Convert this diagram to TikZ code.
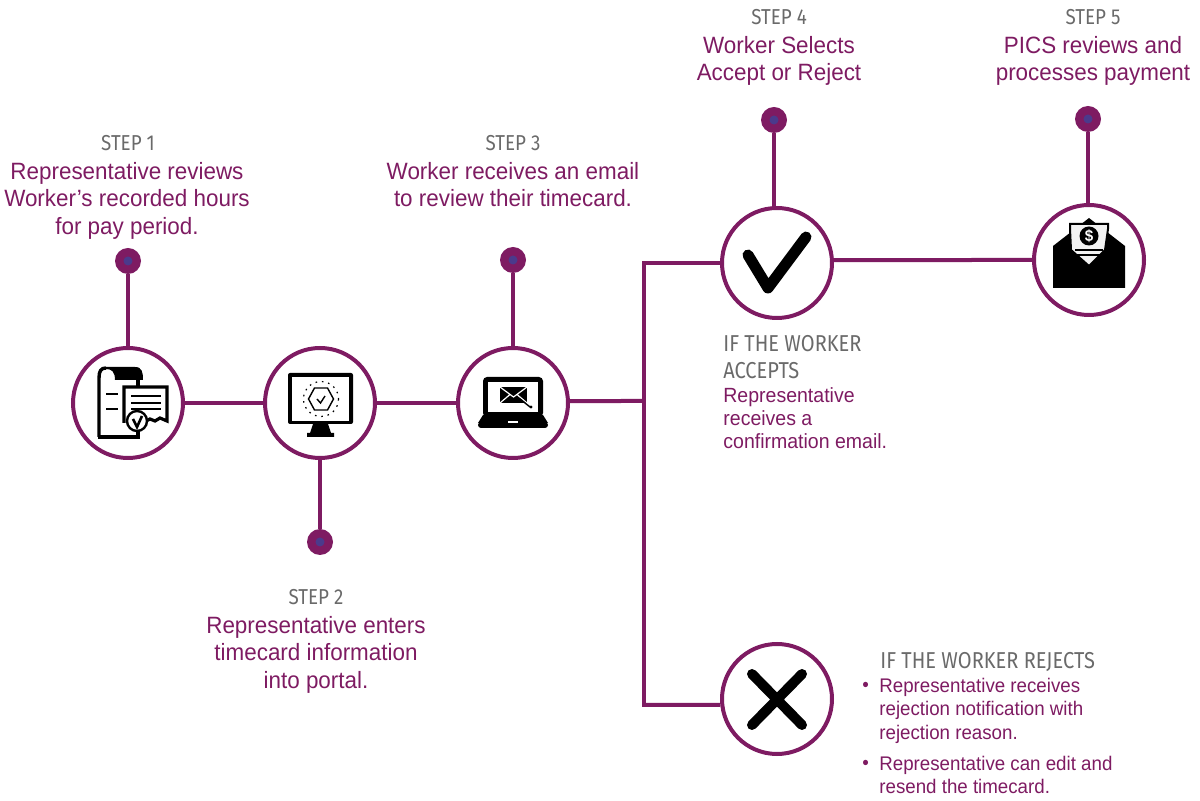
\documentclass[tikz,border=0pt]{standalone}
\usepackage{fontspec}
\setmainfont[FakeStretch=0.95]{Liberation Sans}
\newfontfamily\stepfont[FakeStretch=0.87]{Fira Sans}
\definecolor{plum}{HTML}{7E1B62}
\definecolor{dotblue}{HTML}{4B3A8C}
\definecolor{stepgray}{HTML}{6A6A6A}
\tikzset{
  stage/.style={circle, draw=plum, line width=2pt, fill=white, minimum size=55pt, inner sep=0pt},
  pin/.style={circle, fill=plum, minimum size=13pt, inner sep=0pt},
  wire/.style={draw=plum, line width=2pt},
  steplabel/.style={text=stepgray, font=\stepfont\fontsize{10.8}{13.5}\selectfont, align=center},
  bodylabel/.style={text=plum, font=\fontsize{11.8}{13.75}\selectfont, align=center},
  smalllabel/.style={text=plum, font=\fontsize{10.27}{11.6}\selectfont, align=left, anchor=north west, inner sep=0pt},
  rejectlabel/.style={smalllabel, font=\fontsize{9.85}{11.6}\selectfont},
  headlabel/.style={text=stepgray, font=\stepfont\fontsize{11.5}{13.6}\selectfont, align=left, anchor=north west, inner sep=0pt}
}
\begin{document}
\begin{tikzpicture}[x=0.5pt, y=-0.5pt]
    \useasboundingbox (0,0) rectangle (1200,801);

    % junction points
    \coordinate (bustop) at (644,263);
    \coordinate (busmid) at (644,401);
    \coordinate (busend) at (644,705);

    \node[stage](review) at (128,403){};
    \node[stage](enter) at (320,403){};
    \node[stage](mail) at (513,403){};
    \node[stage](accept) at (777,263){};
    \node[stage](pay) at (1089,260){};
    \node[stage](reject) at (777,699){};

    \node[pin](pinone) at (128,261){};
    \node[pin](pintwo) at (320,542){};
    \node[pin](pinthree) at (513,260){};
    \node[pin](pinfour) at (774,120){};
    \node[pin](pinfive) at (1088,119){};

    \draw[wire] (pinone) -- (review);
    \draw[wire] (pintwo) -- (enter);
    \draw[wire] (pinthree) -- (mail);
    \draw[wire] (pinfour) -- (pinfour |- accept.north);
    \draw[wire] (pinfive) -- (pinfive |- pay.north);
    \draw[wire] (review) -- (enter);
    \draw[wire] (enter) -- (mail);
    \draw[wire] (mail.2) -- (busmid);
    \draw[wire, line cap=rect] (bustop) -- (busend);
    \draw[wire] (bustop) -- (accept.west);
    \draw[wire] (accept.3) -- (pay.west);
    \draw[wire] (busend) -- (reject.186);

    % blue centres
    \foreach \p in {pinone,pintwo,pinthree,pinfour,pinfive}
      \fill[dotblue] (\p) circle (4.5);

    % document icon
    \fill (106,367) -- (135,367) .. controls (142,367) and (143,372) .. (143,380) -- (115,380) .. controls (115,372) and (112,369) .. (106,369) -- cycle;
    \draw[line width=1.7pt] (99,437) -- (99,378) .. controls (99,371) and (101,368) .. (106,368);
    \draw[line width=1.7pt] (138,379) -- (138,437) -- (98,437);
    \draw[line width=1.3pt] (106,394) -- (118,394) (106,409) -- (118,409);
    \draw[line width=1.6pt, fill=white] (124,423) -- (124,387) -- (167,387) -- (167,421) -- (160,418) -- (155,421) -- (150,419) -- (146,421) -- (138,420);
    \draw[line width=1.2pt] (131,396) -- (161,396) (131,403) -- (161,403) (131,409) -- (161,409);
    \draw[line width=1.2pt, fill=white] (137,421) circle (10);
    \draw[line width=1.3pt] (133,419) -- (137,427) -- (142,416);

    % monitor icon
    \fill[rounded corners=1pt] (288,373) rectangle (353,424);
    \fill[white] (292,377) rectangle (349,421);
    \fill (313,424) -- (328,424) -- (331,433) -- (334,433) -- (334,437) -- (307,437) -- (307,433) -- (310,433) -- cycle;
    \draw[line width=0.7pt] (308.5,399) -- (314.5,388) -- (327.5,388) -- (333.5,399) -- (327.5,410) -- (314.5,410) -- cycle;
    \draw[line width=0.7pt] (317,399) -- (320.5,403) -- (325,396);
    \draw[line width=0.6pt, dash pattern=on 0.8pt off 2.4pt] (321,399) circle (17.5);

    % laptop icon
    \fill[rounded corners=2pt] (483,377) rectangle (543,417);
    \fill[white] (488,382) rectangle (538,412);
    \fill (483,415) -- (543,415) -- (548,423) -- (478,423) -- cycle;
    \fill[rounded corners=1.5pt] (478,422) rectangle (548,428);
    \fill[white] (508,421) rectangle (518,423);
    \fill (500,387) rectangle (527,403);
    \draw[white, line width=0.6pt] (500,387) -- (513.5,397) -- (527,387) (500,403) -- (510,394.5) (527,403) -- (517,394.5);
    \draw[line width=0.7pt] (520,399) -- (530,407);
    \fill (531,407) circle (1.6);

    % tick and cross
    \draw[line width=5.5pt, line cap=round, line join=round] (748,255) -- (768,288) -- (806,237);
    \draw[line width=5pt, line cap=round] (752,674) -- (802,725) (802,674) -- (752,725);

    % envelope icon
    \fill (1053,246) -- (1089,218) -- (1125,246) -- (1125,288) -- (1053,288) -- cycle;
    \draw[fill=black!5, line width=1pt] (1070,224) -- (1108,224) -- (1108,229) -- (1105,250) -- (1089,266) -- (1071,250) -- (1070,229) -- cycle;
    \fill (1089,236) circle (9.5);
    \node[text=white, font=\bfseries\fontsize{8}{8}\selectfont, inner sep=0pt](dollar) at (1089,236){\$};
    \draw[line width=1pt] (1075,250) -- (1103,250) (1077,255) -- (1101,255);

    % labels
    \node[steplabel](stepone) at (128,143){STEP 1};
    \node[bodylabel, anchor=north](textone) at (127,155){Representative reviews\\Worker’s recorded hours\\for pay period.};
    \node[steplabel](steptwo) at (316,597){STEP 2};
    \node[bodylabel, anchor=north](texttwo) at (316,609){Representative enters\\timecard information\\into portal.};
    \node[steplabel](stepthree) at (513,143){STEP 3};
    \node[bodylabel, anchor=north](textthree) at (513,155){Worker receives an email\\to review their timecard.};
    \node[steplabel](stepfour) at (779,17){STEP 4};
    \node[bodylabel, anchor=north](textfour) at (779,29){Worker Selects\\Accept or Reject};
    \node[steplabel](stepfive) at (1093,17){STEP 5};
    \node[bodylabel, anchor=north](textfive) at (1093,29){PICS reviews and\\processes payment};

    \node[headlabel](headaccept) at (723,335){IF THE WORKER\\ACCEPTS};
    \node[smalllabel](textaccept) at (723,387){Representative\\receives a\\confirmation email.};
    \node[headlabel](headreject) at (880,652){IF THE WORKER REJECTS};
    \node[rejectlabel](bulletone) at (862,682){•};
    \node[rejectlabel](textrejectone) at (879,678){Representative receives\\rejection notification with\\rejection reason.};
    \node[rejectlabel](bullettwo) at (862,760){•};
    \node[rejectlabel](textrejecttwo) at (879,756){Representative can edit and\\resend the timecard.};
\end{tikzpicture}
\end{document}
